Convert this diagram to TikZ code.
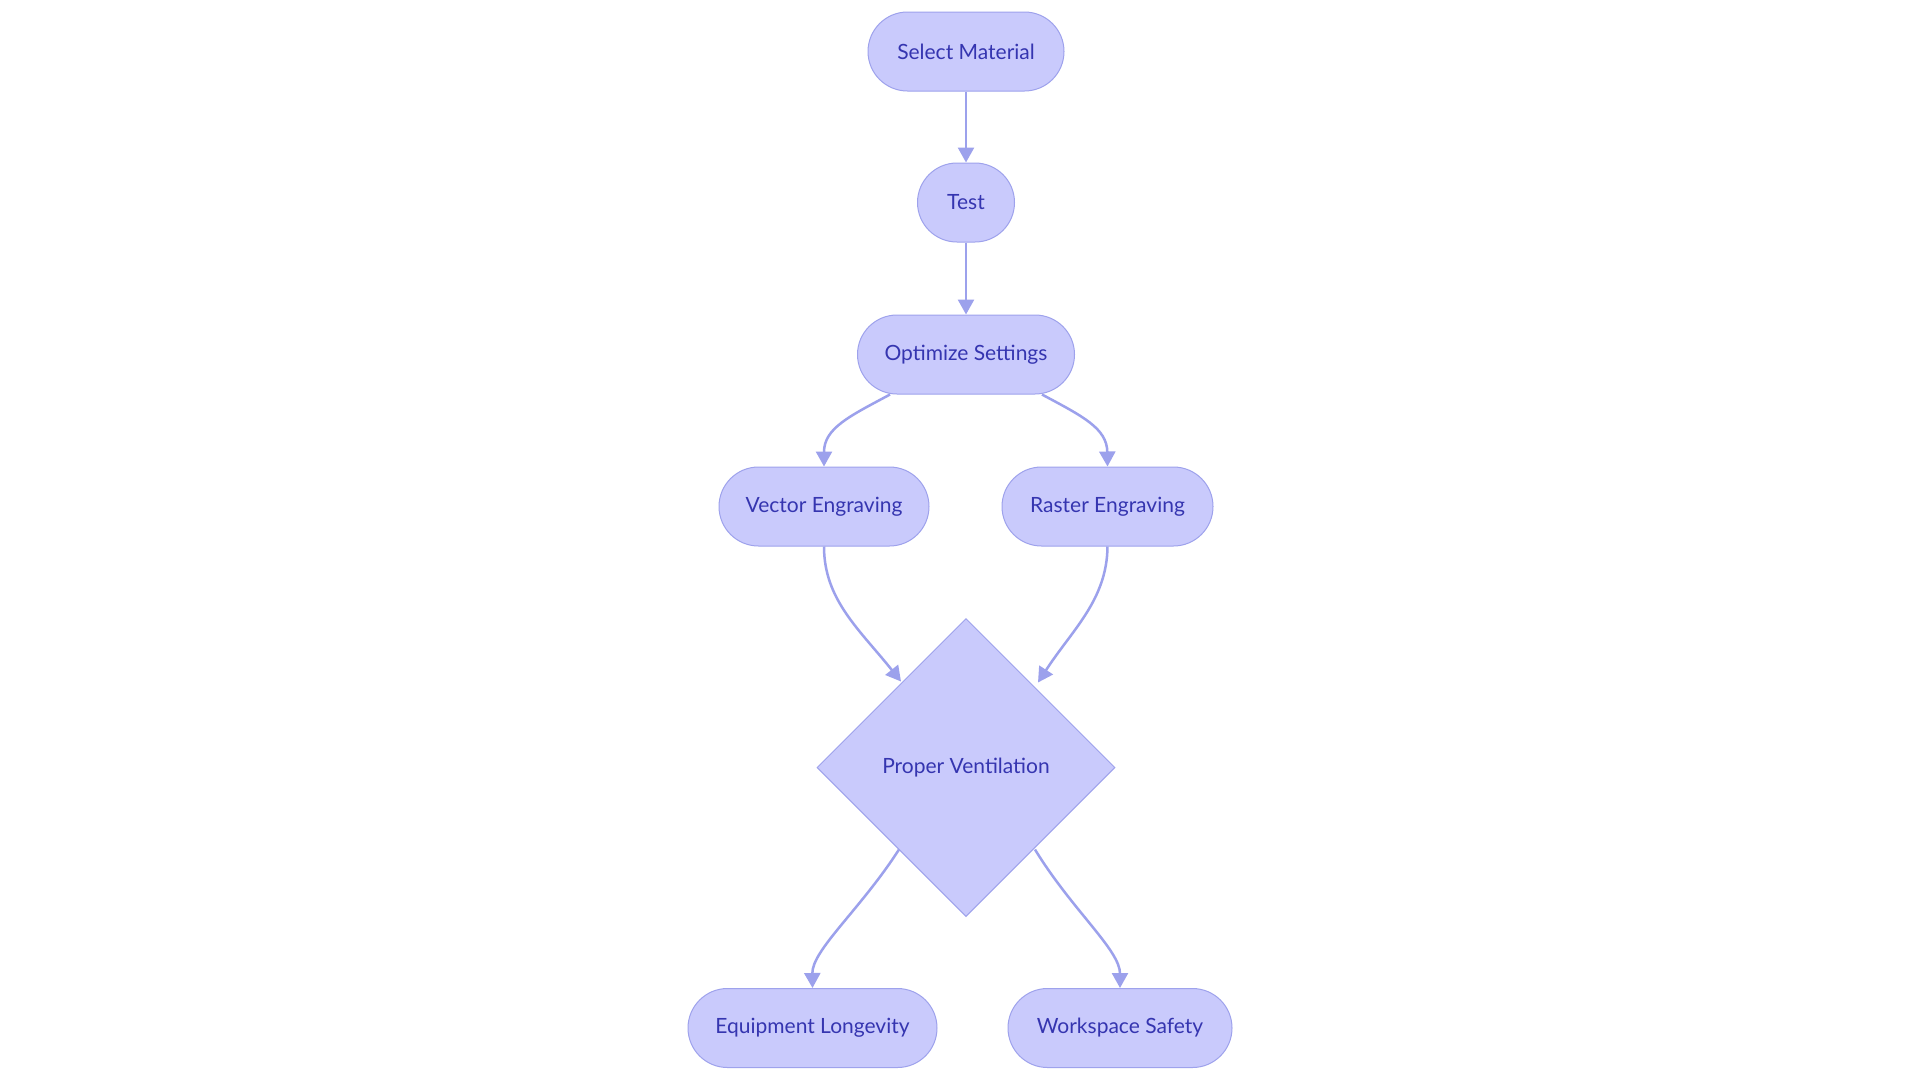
\documentclass[tikz,border=0pt]{standalone}
\usepackage{fontspec}
\setmainfont{Lato}
\usetikzlibrary{shapes.geometric,arrows.meta}
\definecolor{nodefill}{HTML}{C9CAFC}
\definecolor{nodeline}{HTML}{9EA2EC}
\definecolor{edgecol}{HTML}{9CA1EC}
\definecolor{txtcol}{HTML}{3535B0}
\tikzset{
  pill/.style={draw=nodeline, fill=nodefill, line width=1pt, rounded corners=39.5pt,
    minimum height=79pt, inner sep=0pt, text=txtcol, font=\fontsize{21}{25}\selectfont},
  dia/.style={diamond, draw=nodeline, fill=nodefill, line width=1pt, minimum size=298pt,
    inner sep=0pt, aspect=1, text=txtcol, font=\fontsize{21}{25}\selectfont},
  conn/.style={draw=edgecol, line width=2.5pt, -{Triangle[length=15pt,width=16pt]}}
}
\begin{document}
\begin{tikzpicture}[x=1pt,y=-1pt]
\useasboundingbox[fill=white] (0,0) rectangle (1920,1080);
\node[pill, minimum width=196pt] (sel) at (966,51.5) {Select Material};
\node[pill, minimum width=97pt] (test) at (966,202.5) {Test};
\node[pill, minimum width=217pt] (opt) at (966,354.5) {Optimize Settings};
\node[pill, minimum width=210pt] (vec) at (824,506.5) {Vector Engraving};
\node[pill, minimum width=211pt] (ras) at (1107.5,506.5) {Raster Engraving};
\node[dia] (pv) at (966,767.5) {Proper Ventilation};
\node[pill, minimum width=249pt] (equ) at (812.5,1028) {Equipment Longevity};
\node[pill, minimum width=224pt] (ws) at (1120,1028) {Workspace Safety};

\draw[conn] (sel.south) -- (test.north);
\draw[conn] (test.south) -- (opt.north);
\draw[conn] ([xshift=-76pt]opt.south) .. controls (850,416) and (824,428) .. (vec.north);
\draw[conn] ([xshift=76pt]opt.south) .. controls (1082,416) and (1107,428) .. (ras.north);
\draw[conn] (vec.south) .. controls (824,600) and (860,630) .. ([xshift=-65pt,yshift=86pt]pv.center);
\draw[conn] (ras.south) .. controls (1107,600) and (1072,630) .. ([xshift=72pt,yshift=85pt]pv.center);
\draw[conn] ([xshift=-67pt,yshift=-82pt]pv.center) .. controls (860,910) and (812,950) .. (equ.north);
\draw[conn] ([xshift=69pt,yshift=-82pt]pv.center) .. controls (1072,910) and (1120,950) .. (ws.north);
\end{tikzpicture}
\end{document}
